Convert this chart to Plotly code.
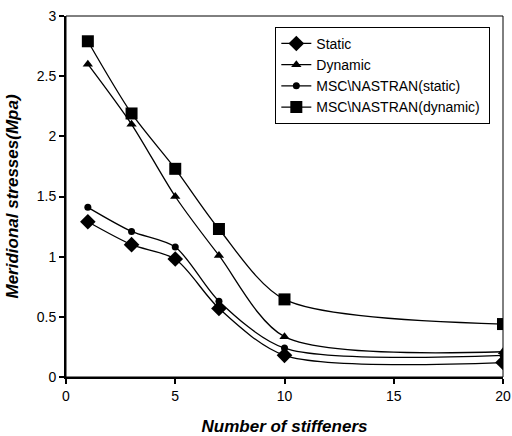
import plotly.graph_objects as go

x_vals = [1, 3, 5, 7, 10, 20]
static = [1.29, 1.10, 0.98, 0.57, 0.18, 0.12]
dynamic = [2.60, 2.10, 1.50, 1.01, 0.335, 0.21]
msc_static = [1.41, 1.21, 1.08, 0.63, 0.24, 0.18]
msc_dynamic = [2.79, 2.19, 1.73, 1.23, 0.645, 0.44]

series = [
    ("Static", static, "diamond", 12),
    ("Dynamic", dynamic, "triangle-up", 9),
    ("MSC\\NASTRAN(static)", msc_static, "circle", 7),
    ("MSC\\NASTRAN(dynamic)\u00a0", msc_dynamic, "square", 12),
]

fig = go.Figure()
for name, ys, sym, sz in series:
    fig.add_trace(go.Scatter(
        x=x_vals, y=ys, name=name, mode="lines+markers",
        line=dict(color="black", width=1.3, shape="spline", smoothing=0.8),
        marker=dict(symbol=sym, size=sz, color="black"),
    ))

font = "Liberation Sans, Arial, sans-serif"
fig.update_layout(
    width=512, height=436,
    margin=dict(l=66, r=9, t=16, b=59),
    paper_bgcolor="white", plot_bgcolor="white",
    font=dict(family=font, size=14, color="black"),
    showlegend=True,
    legend=dict(x=0.479, y=0.97, xanchor="left", yanchor="top",
                bordercolor="black", borderwidth=1, bgcolor="white",
                font=dict(size=14), tracegroupgap=0, itemwidth=30),
    xaxis=dict(range=[0, 20], tickvals=[0, 5, 10, 15, 20], showgrid=False,
               zeroline=False, showline=True, linecolor="black", linewidth=2,
               ticks="outside", ticklen=5, tickcolor="black", tickwidth=2,
               automargin=False,
               title=dict(text="<b><i>Number of stiffeners</i></b>", font=dict(size=17), standoff=21)),
    yaxis=dict(range=[0, 3], tickvals=[0, 0.5, 1, 1.5, 2, 2.5, 3],
               ticktext=["0", "0.5", "1", "1.5", "2", "2.5", "3"], showgrid=False,
               zeroline=False, showline=True, linecolor="black", linewidth=2,
               ticks="outside", ticklen=5, tickcolor="black", tickwidth=2,
               automargin=False,
               title=dict(text="<b><i>Meridional stresses(Mpa)</i></b>", font=dict(size=17), standoff=14)),
    shapes=[dict(type="rect", xref="paper", yref="paper", x0=0, y0=0, x1=1, y1=1,
                 line=dict(color="black", width=1), layer="below")],
)

fig.write_html("out.html", config={"displayModeBar": False},
               post_script="document.body.style.margin='0';")
